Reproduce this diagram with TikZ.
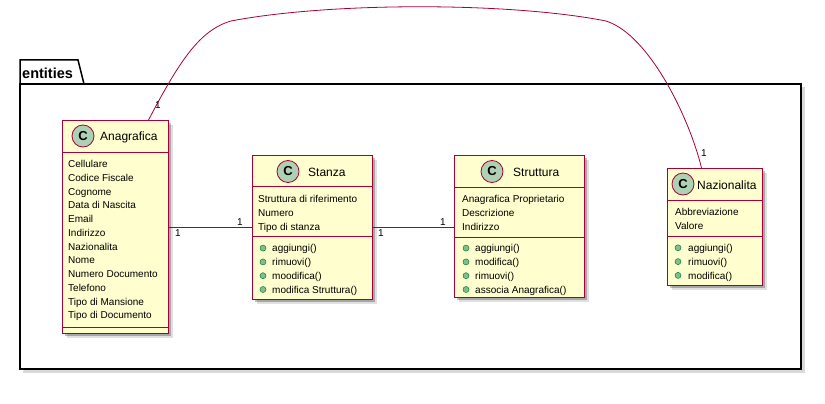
\documentclass[tikz,border=0pt]{standalone}
\usepackage{fontspec}
\setmainfont{Liberation Sans}
\usetikzlibrary{shadows}
\definecolor{umlred}{HTML}{A80036}
\definecolor{umlfill}{HTML}{FEFECE}
\definecolor{umlcirc}{HTML}{ADD1B2}
\definecolor{umlgreen}{HTML}{84BE84}
\definecolor{umldkgreen}{HTML}{038048}
\tikzstyle{classstyle}=[rectangle, draw=umlred, line width=1pt, fill=umlfill,
anchor=north west, inner sep=0pt,
drop shadow={shadow xshift=2pt, shadow yshift=-2pt, opacity=.25, fill=black},
drop shadow={shadow xshift=4pt, shadow yshift=-4pt, opacity=.12, fill=black}]
\tikzstyle{circstyle}=[circle, draw=umlred, line width=.8pt, fill=umlcirc,
minimum size=22pt, inner sep=0pt, font=\fontsize{13}{13}\selectfont\bfseries]
\tikzstyle{titlestyle}=[anchor=base west, inner sep=0pt, font=\fontsize{12}{12}\selectfont]
\tikzstyle{attrstyle}=[anchor=base west, inner sep=0pt, font=\fontsize{10}{10}\selectfont]
\tikzstyle{bulletstyle}=[circle, draw=umldkgreen, line width=.5pt, fill=umlgreen,
minimum size=6pt, inner sep=0pt]
\tikzstyle{sepstyle}=[draw=umlred, line width=1pt]
\tikzstyle{assocstyle}=[draw=umlred, line width=.8pt]
\tikzstyle{multstyle}=[inner sep=0pt, font=\fontsize{10}{10}\selectfont]

\begin{document}
\begin{tikzpicture}[x=1pt, y=-1pt]
\useasboundingbox (0,0) rectangle (825,404);

% Package entities
\fill[black!25, opacity=.6] (23,87) rectangle (805,373);
\fill[white] (20,84) rectangle (801,369);
\draw[line width=1.5pt] (20,84) -- (20,60) -- (78,60) -- (84,84);
\draw[line width=1.5pt] (20,84) rectangle (801,369);
\node[anchor=base west, inner sep=0pt, font=\fontsize{14.5}{14.5}\selectfont\bfseries] (pkg) at (22,78) {entities};

% Anagrafica
\node[classstyle, minimum width=106pt, minimum height=213pt] (ana) at (62,120) {};
\node[circstyle] (anac) at (83,136) {C};
\node[titlestyle] (anat) at (100,140.5) {Anagrafica};
\draw[sepstyle] ([yshift=-32pt]ana.north west) -- ([yshift=-32pt]ana.north east);
\draw[sepstyle] ([yshift=7pt]ana.south west) -- ([yshift=7pt]ana.south east);
\foreach \attr [count=\i] in {Cellulare, Codice Fiscale, Cognome, Data di Nascita,
    Email, Indirizzo, Nazionalita, Nome, Numero Documento, Telefono,
    Tipo di Mansione, Tipo di Documento}
  \node[attrstyle] (ana-a\i) at (68,167.5+13.76*\i-13.76) {\attr};

% Stanza
\node[classstyle, minimum width=120pt, minimum height=144pt] (stz) at (252,155) {};
\node[circstyle] (stzc) at (288,171.5) {C};
\node[titlestyle] (stzt) at (308,176.5) {Stanza};
\draw[sepstyle] ([yshift=-31pt]stz.north west) -- ([yshift=-31pt]stz.north east);
\draw[sepstyle] ([yshift=-81pt]stz.north west) -- ([yshift=-81pt]stz.north east);
\foreach \attr [count=\i] in {Struttura di riferimento, Numero, Tipo di stanza}
  \node[attrstyle] (stz-a\i) at (258,202.8+13.7*\i-13.7) {\attr};
\foreach \meth [count=\i] in {aggiungi(), rimuovi(), moodifica(), modifica Struttura()}
{
  \node[bulletstyle] (stz-b\i) at (263,248.1+13.8*\i-13.8) {};
  \node[attrstyle] (stz-m\i) at (272,251.8+13.8*\i-13.8) {\meth};
}

% Struttura
\node[classstyle, minimum width=130pt, minimum height=142pt] (str) at (454,155) {};
\node[circstyle] (strc) at (492,171.5) {C};
\node[titlestyle] (strt) at (513,176.5) {Struttura};
\draw[sepstyle] ([yshift=-32pt]str.north west) -- ([yshift=-32pt]str.north east);
\draw[sepstyle] ([yshift=-82pt]str.north west) -- ([yshift=-82pt]str.north east);
\foreach \attr [count=\i] in {Anagrafica Proprietario, Descrizione, Indirizzo}
  \node[attrstyle] (str-a\i) at (462,202.8+13.7*\i-13.7) {\attr};
\foreach \meth [count=\i] in {aggiungi(), modifica(), rimuovi(), associa Anagrafica()}
{
  \node[bulletstyle] (str-b\i) at (466,248.1+13.8*\i-13.8) {};
  \node[attrstyle] (str-m\i) at (475,251.8+13.8*\i-13.8) {\meth};
}

% Nazionalita
\node[classstyle, minimum width=95pt, minimum height=117pt] (naz) at (667,168) {};
\node[circstyle] (nazc) at (683,184) {C};
\node[titlestyle] (nazt) at (697,189) {Nazionalita};
\draw[sepstyle] ([yshift=-32pt]naz.north west) -- ([yshift=-32pt]naz.north east);
\draw[sepstyle] ([yshift=-68pt]naz.north west) -- ([yshift=-68pt]naz.north east);
\foreach \attr [count=\i] in {Abbreviazione, Valore}
  \node[attrstyle] (naz-a\i) at (675,215.5+14.3*\i-14.3) {\attr};
\foreach \meth [count=\i] in {aggiungi(), rimuovi(), modifica()}
{
  \node[bulletstyle] (naz-b\i) at (678,247.8+13.8*\i-13.8) {};
  \node[attrstyle] (naz-m\i) at (688,251.5+13.8*\i-13.8) {\meth};
}

% Associations
\draw[assocstyle] (ana.east) -- (ana.east -| stz.west);
\node[multstyle] (m1) at (178,233) {1};
\node[multstyle] (m2) at (240,222.5) {1};
\draw[assocstyle] (stz.east) -- (stz.east -| str.west);
\node[multstyle] (m3) at (381,233) {1};
\node[multstyle] (m4) at (443,222.5) {1};
\draw[assocstyle] ([xshift=33pt]ana.north) .. controls (180,60) and (200,30) .. (231,21)
	.. controls (330,2) and (510,2) .. (606,21)
	.. controls (650,35) and (690,120) .. ([xshift=-13.5pt]naz.north);
\node[multstyle] (m5) at (158,105) {1};
\node[multstyle] (m6) at (704,153) {1};

\end{tikzpicture}
\end{document}
